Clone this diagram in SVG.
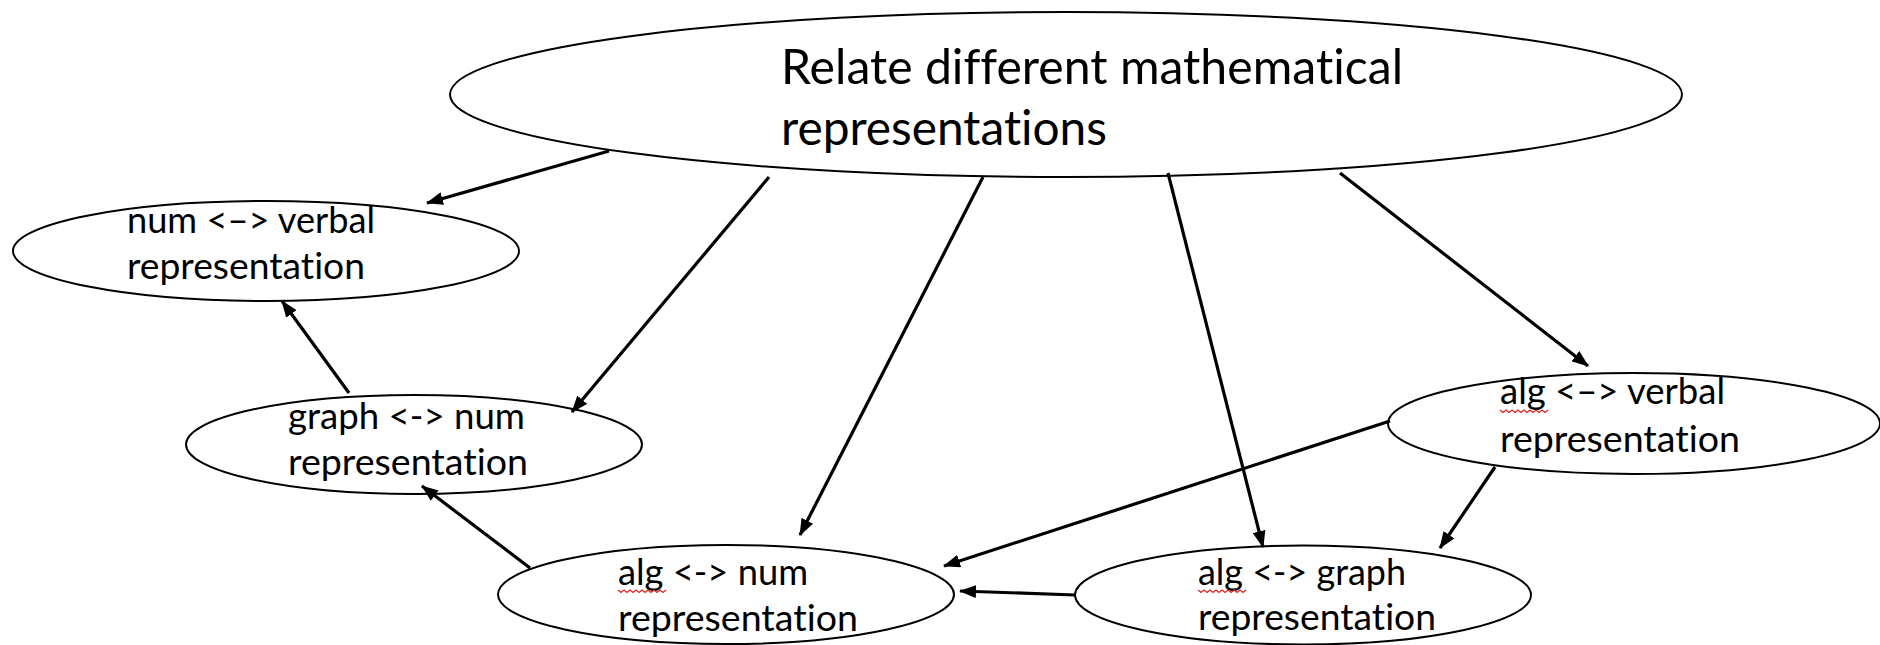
<svg xmlns="http://www.w3.org/2000/svg" width="1880" height="645" viewBox="0 0 1880 645">
<defs>
<style>
.node ellipse{fill:#fff;stroke:#000;stroke-width:2}
.node text{font-family:Lato,"Open Sans",sans-serif;font-size:37px;fill:#000;font-variant-ligatures:none;font-feature-settings:"liga" 0,"clig" 0}
#top text{font-size:48px}
.edge{stroke:#000;stroke-width:3.2;fill:none;marker-end:url(#arr)}
.sq{stroke:#e02020;stroke-width:1.2;fill:none}
</style>
<marker id="arr" markerUnits="userSpaceOnUse" markerWidth="17" markerHeight="13" viewBox="0 0 17 13" refX="16" refY="6.5" orient="auto">
<path d="M0,0 L17,6.5 L0,13 z" fill="#000"/>
</marker>
</defs>
<rect width="1880" height="645" fill="#fff"/>
<g id="top" class="node">
<ellipse cx="1066" cy="94.5" rx="616" ry="82.5"/>
<text x="781" y="84" textLength="622" lengthAdjust="spacingAndGlyphs">Relate different mathematical</text>
<text x="781" y="145" textLength="326" lengthAdjust="spacingAndGlyphs">representations</text>
</g>
<g id="num-verbal" class="node">
<ellipse cx="266" cy="251" rx="253" ry="50"/>
<text x="127" y="233" textLength="248" lengthAdjust="spacingAndGlyphs">num &lt;–&gt; verbal</text>
<text x="127" y="279" textLength="238" lengthAdjust="spacingAndGlyphs">representation</text>
</g>
<g id="graph-num" class="node">
<ellipse cx="414" cy="444.5" rx="228" ry="49.5"/>
<text x="288" y="429" textLength="237" lengthAdjust="spacingAndGlyphs">graph &lt;-&gt; num</text>
<text x="288" y="475" textLength="240" lengthAdjust="spacingAndGlyphs">representation</text>
</g>
<g id="alg-num" class="node">
<ellipse cx="726" cy="594.5" rx="228" ry="49.5"/>
<text x="618" y="585" textLength="190" lengthAdjust="spacingAndGlyphs">alg &lt;-&gt; num</text>
<text x="618" y="631" textLength="240" lengthAdjust="spacingAndGlyphs">representation</text>
<path class="sq" d="M618,590 l3,2.5 l3,-2.5 l3,2.5 l3,-2.5 l3,2.5 l3,-2.5 l3,2.5 l3,-2.5 l3,2.5 l3,-2.5 l3,2.5 l3,-2.5 l3,2.5 l3,-2.5 l3,2.5 l3,-2.5"/>
</g>
<g id="alg-graph" class="node">
<ellipse cx="1303" cy="595" rx="228" ry="49.5"/>
<text x="1198" y="585" textLength="208" lengthAdjust="spacingAndGlyphs">alg &lt;-&gt; graph</text>
<text x="1198" y="630" textLength="238" lengthAdjust="spacingAndGlyphs">representation</text>
<path class="sq" d="M1198,590 l3,2.5 l3,-2.5 l3,2.5 l3,-2.5 l3,2.5 l3,-2.5 l3,2.5 l3,-2.5 l3,2.5 l3,-2.5 l3,2.5 l3,-2.5 l3,2.5 l3,-2.5 l3,2.5 l3,-2.5"/>
</g>
<g id="alg-verbal" class="node">
<ellipse cx="1634" cy="423.5" rx="246" ry="50.5"/>
<text x="1500" y="404" textLength="225" lengthAdjust="spacingAndGlyphs">alg &lt;–&gt; verbal</text>
<text x="1500" y="452" textLength="240" lengthAdjust="spacingAndGlyphs">representation</text>
<path class="sq" d="M1500,410 l3,2.5 l3,-2.5 l3,2.5 l3,-2.5 l3,2.5 l3,-2.5 l3,2.5 l3,-2.5 l3,2.5 l3,-2.5 l3,2.5 l3,-2.5 l3,2.5 l3,-2.5 l3,2.5 l3,-2.5"/>
</g>
<g id="connectors">
<line class="edge" x1="609" y1="151" x2="427" y2="203"/>
<line class="edge" x1="769" y1="177" x2="572" y2="412"/>
<line class="edge" x1="983" y1="177" x2="800" y2="535"/>
<line class="edge" x1="1168" y1="173" x2="1263" y2="547"/>
<line class="edge" x1="1340" y1="173" x2="1588" y2="366"/>
<line class="edge" x1="1390" y1="421" x2="944" y2="566"/>
<line class="edge" x1="1495" y1="467" x2="1440" y2="548"/>
<line class="edge" x1="1075" y1="595" x2="960" y2="591"/>
<line class="edge" x1="530" y1="568" x2="422" y2="486"/>
<line class="edge" x1="349" y1="393" x2="282" y2="301"/>
</g>
</svg>
